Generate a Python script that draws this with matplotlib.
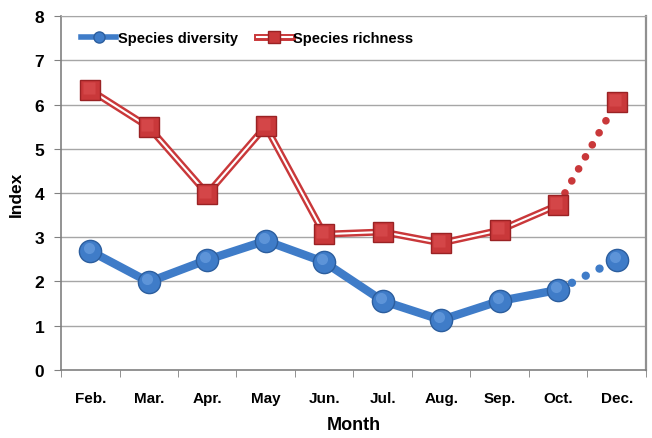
import matplotlib
matplotlib.use("Agg")
import matplotlib.pyplot as plt
from matplotlib.lines import Line2D
from matplotlib.legend_handler import HandlerTuple
import numpy as np

months = ["Feb.", "Mar.", "Apr.", "May", "Jun.", "Jul.", "Aug.", "Sep.", "Oct.", "Dec."]
diversity = [2.69, 1.99, 2.49, 2.92, 2.44, 1.56, 1.13, 1.56, 1.81, 2.49]
richness = [6.33, 5.49, 3.98, 5.51, 3.07, 3.12, 2.87, 3.16, 3.73, 6.06]
y_ticks = [0, 1, 2, 3, 4, 5, 6, 7, 8]

plt.rcParams["font.family"] = ["Liberation Sans", "DejaVu Sans"]

BLUE = "#3f7cc8"
BLUE_EDGE = "#2c5e9e"
RED = "#c9383a"
RED_EDGE = "#9a2224"

fig = plt.figure(figsize=(6.52, 4.39), dpi=100)
ax = fig.add_axes([0.0936, 0.155, 0.897, 0.806])

x = np.arange(len(months))
solid = slice(0, len(months) - 1)
gap = slice(len(months) - 2, len(months))

# gridlines
for v in y_ticks[1:]:
    ax.axhline(v, color="#a6a6a6", lw=1.0, zorder=0)

# species richness: double line (red outline, white core)
ax.plot(x[solid], richness[solid], color=RED, lw=5.0, solid_joinstyle="miter", zorder=2)
ax.plot(x[solid], richness[solid], color="white", lw=1.5, solid_joinstyle="miter", zorder=2.1)
ax.plot(x[gap], richness[gap], color=RED, lw=5.5, linestyle=(0, (0.01, 1.8)),
        dash_capstyle="round", zorder=2)
ax.plot(x, richness, linestyle="none", marker="s", markersize=15,
        markerfacecolor=RED, markeredgecolor=RED_EDGE, markeredgewidth=1.0, zorder=4)
ax.plot(x - 0.03, np.array(richness) + 0.05, linestyle="none", marker="s", markersize=8,
        markerfacecolor="#dd5153", markeredgecolor="none", alpha=0.6, zorder=4.1)

# species diversity: thick solid line
ax.plot(x[solid], diversity[solid], color=BLUE, lw=6.0, solid_capstyle="round", zorder=3)
ax.plot(x[gap], diversity[gap], color=BLUE, lw=6.0, linestyle=(0, (0.01, 1.85)),
        dash_capstyle="round", zorder=3)
ax.plot(x, diversity, linestyle="none", marker="o", markersize=16,
        markerfacecolor=BLUE, markeredgecolor=BLUE_EDGE, markeredgewidth=1.0, zorder=5)
ax.plot(x - 0.03, np.array(diversity) + 0.06, linestyle="none", marker="o", markersize=8,
        markerfacecolor="#6a9fe0", markeredgecolor="none", alpha=0.7, zorder=5.1)

ax.set_xlim(-0.5, len(months) - 0.5)
ax.set_ylim(0, 8)
ax.set_yticks(y_ticks)
ax.set_yticklabels([str(v) for v in y_ticks], fontsize=12.5, fontweight="bold")
ax.set_xticks(x)
ax.set_xticklabels(months, fontsize=11, fontweight="bold")
ax.set_xticks(np.arange(-0.5, len(months), 1.0), minor=True)
ax.tick_params(axis="x", which="major", length=0, pad=15)
ax.tick_params(axis="x", which="minor", length=5, color="#808080", direction="out")
ax.tick_params(axis="y", length=5, color="#808080", direction="out", pad=7)

ax.set_xlabel("Month", fontsize=13, fontweight="bold", labelpad=8)
ax.set_ylabel("Index", fontsize=12.5, fontweight="bold", labelpad=8)

for side in ["left", "bottom"]:
    ax.spines[side].set_color("#808080")
    ax.spines[side].set_linewidth(1.2)
ax.spines["right"].set_color("#909090")
ax.spines["right"].set_linewidth(1.6)
ax.spines["top"].set_color("#a6a6a6")

# legend
h_div = (Line2D([], [], color=BLUE, lw=4),
         Line2D([], [], linestyle="none", marker="o", markersize=8,
                markerfacecolor=BLUE, markeredgecolor=BLUE_EDGE))
h_rich = (Line2D([], [], color=RED, lw=5),
          Line2D([], [], color="white", lw=1.5),
          Line2D([], [], linestyle="none", marker="s", markersize=8,
                 markerfacecolor=RED, markeredgecolor=RED_EDGE))
ax.legend([h_div, h_rich], ["Species diversity", "Species richness"],
          handler_map={tuple: HandlerTuple(ndivide=1)},
          loc="upper left", bbox_to_anchor=(0.012, 0.995), ncol=2, frameon=False,
          handlelength=2.4, handletextpad=0.1, columnspacing=1.3,
          prop={"weight": "bold", "size": 10.5})

fig.savefig("out.png", dpi=100, facecolor="white")
